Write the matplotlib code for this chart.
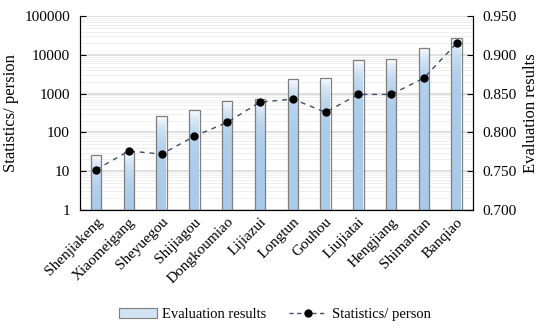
import numpy as np
import matplotlib.pyplot as plt
from matplotlib.colors import LinearSegmentedColormap
from matplotlib.patches import Patch
from matplotlib.lines import Line2D

plt.rcParams['font.family'] = ['Liberation Serif', 'DejaVu Serif']

# Data
sites = ['Shenjiakeng', 'Xiaomeigang', 'Sheyuegou', 'Shijiagou', 'Dongkoumiao',
         'Lijiazui', 'Longtun', 'Gouhou', 'Liujiatai', 'Hengjiang', 'Shimantan', 'Banqiao']
bar_values = [25, 30, 260, 378, 633, 713, 2335, 2570, 7340, 7660, 14970, 26600]
line_values = [0.752, 0.776, 0.772, 0.795, 0.813, 0.839, 0.843, 0.826, 0.849, 0.849, 0.870, 0.915]
left_ticks = [1, 10, 100, 1000, 10000, 100000]
right_ticks = [0.700, 0.750, 0.800, 0.850, 0.900, 0.950]

fig = plt.figure(figsize=(5.5, 3.29), dpi=100)
ax = fig.add_axes([0.145, 0.362, 0.715, 0.589])
x = np.arange(len(sites))

ax.set_yscale('log')
ax.set_ylim(1, 100000)
ax.set_xlim(-0.5, len(sites) - 0.5)

# gridlines
ax.grid(True, which='major', axis='y', color='#d9d9d9', lw=1.2, zorder=0)
ax.grid(True, which='minor', axis='y', color='#ececec', lw=0.6, zorder=0)
ax.set_axisbelow(True)

# bars with vertical gradient (white at top, blue at bottom)
cmap = LinearSegmentedColormap.from_list('grad', ['#ffffff', '#a9cbea'])
grad = np.linspace(0, 1, 256).reshape(-1, 1)
bars = ax.bar(x, bar_values, width=0.32, bottom=1, facecolor='none',
              edgecolor='#7f7f7f', lw=0.9, zorder=3)
for b in bars:
    x0, x1 = b.get_x(), b.get_x() + b.get_width()
    y1 = b.get_y() + b.get_height()
    img = ax.imshow(grad, cmap=cmap, aspect='auto', extent=[x0, x1, 1, y1],
                    origin='upper', zorder=2, interpolation='bicubic')
    img.set_clip_path(b)
ax.set_xlim(-0.5, len(sites) - 0.5)
ax.set_ylim(1, 100000)

ax.set_yticks(left_ticks)
ax.set_yticklabels([str(t) for t in left_ticks])
ax.yaxis.set_minor_formatter(plt.NullFormatter())
ax.tick_params(axis='y', which='minor', length=0)
ax.tick_params(axis='y', which='major', direction='in', length=4, labelsize=11, pad=7)
ax.set_xticks(x)
ax.set_xticklabels(sites, rotation=45, ha='right', rotation_mode='anchor', fontsize=11)
ax.tick_params(axis='x', length=0, pad=4)
ax.set_ylabel('Statistics/ persion', fontsize=12)
ax.spines['top'].set_visible(False)

ax2 = ax.twinx()
ax2.plot(x, line_values, ls=(0, (3.5, 3.5)), color='#3f4f66', lw=1.0, marker='o',
         markersize=5, markerfacecolor='black', markeredgecolor='black', zorder=5)
ax2.set_ylim(0.7, 0.95)
ax2.set_yticks(right_ticks)
ax2.set_yticklabels(['%.3f' % t for t in right_ticks])
ax2.tick_params(axis='y', direction='in', length=4, labelsize=11, pad=7)
ax2.set_ylabel('Evaluation results', fontsize=12)
ax2.spines['top'].set_visible(False)

handles = [Patch(facecolor='#d2e3f3', edgecolor='#7f7f7f', lw=0.8),
           Line2D([0], [0], ls=(0, (3, 2.5)), color='#3f4f66', lw=1.0, marker='o',
                  markersize=5, markerfacecolor='black', markeredgecolor='black')]
fig.legend(handles, ['Evaluation results', 'Statistics/ person'], loc='center',
           bbox_to_anchor=(0.5, 0.045), ncol=2, frameon=False, fontsize=10.5,
           handlelength=2.6, handleheight=0.7, handletextpad=0.3, columnspacing=1.6)

fig.savefig('out.png', dpi=100)
